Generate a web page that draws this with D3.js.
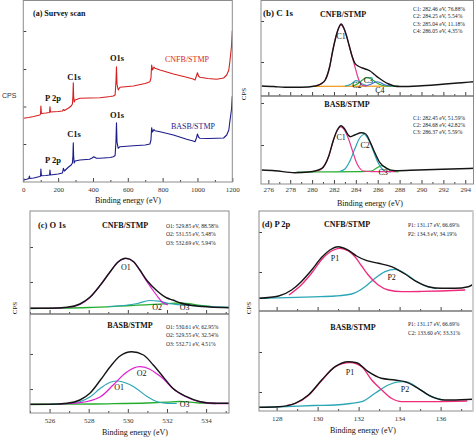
<!DOCTYPE html>
<html><head><meta charset="utf-8">
<script src="https://cdn.jsdelivr.net/npm/d3@7"></script>
<style>body{margin:0;background:#fff}svg{display:block}</style>
</head><body><script>
// ---------------- DATA ----------------
// (a) survey scan: [binding energy eV, counts (a.u.)]
const surveyCNFB = [[0,63.7],[30,64.5],[60,65.5],[95,67],[99,68],[101,76],[104,68.5],[130,69],[151,69.5],[153,75.3],[156,70],[200,70.5],[225,71],[230,72.5],[236,71.5],[260,74],[275,76],[282,78],[285,86],[287,99.3],[289,86],[292,80],[297,82],[325,83.7],[380,84],[440,84.3],[500,85.5],[517,86],[527,87],[532,100],[535,115.3],[538,98],[545,92],[555,94.7],[632,96],[700,98.5],[727,100.3],[733,104],[737,117],[742,112],[750,115],[756,113.7],[785,112],[862,108],[938,104.7],[975,103],[986,102],[994,106],[1000,109.3],[1006,106],[1014,104.7],[1060,103.5],[1110,102.7],[1150,104],[1168,107],[1180,112],[1187,122],[1195,135],[1200,151.3]];
const surveyBASB = [[0,2],[19,2.7],[32,3.5],[35,6],[38,3.5],[60,4],[95,5.5],[99,6],[101,13],[104,6.3],[130,6.5],[151,7],[153,12],[156,7],[200,8],[225,9],[230,13.7],[236,11],[260,15],[275,17],[282,19],[285,26],[287,39.3],[289,26],[292,19],[297,21],[325,22],[380,22.7],[395,24],[405,25.3],[420,23.7],[440,23.7],[500,24.5],[517,25.3],[527,26.5],[532,40],[535,59.3],[538,40],[545,33.7],[555,35.3],[632,36.3],[700,37],[727,38],[733,42],[737,54.3],[742,50],[750,52.5],[756,51.3],[785,50.3],[862,47],[938,42.7],[975,41],[986,40.3],[994,44],[1000,48],[1006,45],[1014,43.7],[1060,43.5],[1110,43.7],[1150,44],[1168,47],[1180,52],[1187,62],[1195,72],[1200,86]];
const surveyTicks = [0,200,400,600,800,1000,1200];

// (b) C 1s
const c1sTicks = [276,278,280,282,284,286,288,290,292,294];
const cnfbC1sTotal = [[275.4,10],[276.5,9.5],[277.5,8.7],[279.0,8.7],[280.3,10],[280.8,12],[281.2,16],[281.6,29],[281.9,46],[282.3,64],[282.65,72],[282.9,68],[283.15,60],[283.4,50],[283.65,40],[283.9,33],[284.2,30],[284.6,28],[285.0,26.5],[285.3,25],[285.7,21.5],[286.1,18],[286.5,15],[287.0,12],[287.5,10],[288.0,9.5],[289.7,10],[291.9,11.7],[293.7,13.3],[294.8,14.3]];
const cnfbC1 = [[280.3,10],[280.8,12],[281.2,16],[281.6,29],[281.9,46],[282.3,64],[282.65,71],[282.9,67.5],[283.15,60],[283.4,50],[283.65,40],[283.9,30],[284.15,20],[284.35,14],[284.6,10.5],[285.0,10]];
const cnfbC2 = [[283.0,10],[283.5,11.5],[283.8,14],[284.0,15.3],[284.3,14.5],[284.6,12],[285.0,10.3]];
const cnfbC3 = [[283.7,10],[284.2,12.5],[284.6,16],[285.0,18.3],[285.4,17],[285.8,14],[286.2,11.5],[286.7,10],[288.0,9.6]];
const cnfbC4 = [[284.8,10],[285.3,11.5],[285.6,13],[285.95,14.3],[286.3,13],[286.7,11],[287.2,10]];
const cnfbC1sBase = [[280.1,9.6],[287.3,9.9]];
const basbC1sTotal = [[275.4,14],[276.6,13.3],[278.4,11.3],[279.7,12],[280.9,15.7],[281.5,27.3],[281.95,44],[282.3,54],[282.65,58.3],[283.0,54.7],[283.3,49],[283.5,47.3],[283.9,49],[284.5,51.3],[284.9,50],[285.3,42.3],[285.76,30.7],[286.2,21.3],[286.8,15.7],[287.6,13.3],[289.7,14],[291.9,14.7],[294.8,15.7]];
const basbC1 = [[280.5,13],[280.9,15.5],[281.5,27],[281.95,43.5],[282.3,53.5],[282.6,57],[282.9,55],[283.3,46],[283.7,33],[284.0,23],[284.3,16.5],[284.7,13],[285.5,12.3],[287.6,12.3]];
const basbC2 = [[282.5,12.5],[283.0,15],[283.5,24],[283.9,35],[284.3,45],[284.75,49.5],[285.2,43.5],[285.6,33],[286.0,22],[286.4,15],[286.8,12.5],[287.2,12]];
const basbC3 = [[278.6,12],[284.5,12.3],[285.4,12.8],[285.9,16],[286.35,18.3],[286.8,16],[287.2,13],[287.9,12]];
const cnfbC1sLegend = ["C1: 282.46 eV, 76.88%","C2: 284.25 eV, 5.54%","C3: 285.04 eV, 11.18%","C4: 286.05 eV, 4.35%"];
const basbC1sLegend = ["C1: 282.45 eV, 51.59%","C2: 284.68 eV, 42.82%","C3: 286.37 eV, 5.59%"];
const cnfbC1sLabels = [["C1",282.65,57],["C2",284.1,8.5],["C3",285.15,13],["C4",286.2,3]];
const basbC1sLabels = [["C1",282.65,44],["C2",284.85,36],["C3",286.5,9]];

// (c) O 1s
const o1sTicks = [526,528,530,532,534];
const cnfbO1sTotal = [[525.0,5.7],[526.0,5.7],[526.9,6.7],[527.55,10],[528.06,16.7],[528.6,29],[529.1,42.3],[529.5,52],[529.9,55.7],[530.3,52.3],[530.6,44.5],[531.0,33],[531.5,23],[532.0,16],[532.3,14],[532.7,11],[533.3,8.5],[534.2,7],[535.17,6.3]];
const cnfbO1 = [[525.0,5.7],[526.0,5.7],[526.9,6.5],[527.55,9.5],[528.06,16.5],[528.6,29],[529.1,42.3],[529.5,52],[529.9,55.5],[530.3,52],[530.6,44],[530.95,33],[531.2,26],[531.5,18],[531.75,12],[532.05,9]];
const cnfbO2 = [[529.0,7.5],[529.8,8.5],[530.5,10.5],[531.1,13.5],[531.6,12.8],[532.1,10.5],[532.6,9.3],[533.3,8.3],[534.2,7.3],[535.17,6.8]];
const cnfbO3 = [[525.0,5.5],[526.5,5.8],[528.0,6.5],[529.5,7.8],[530.5,8.8],[531.3,9.6],[532.0,10.3],[532.6,11],[533.1,10.3],[533.7,8.5],[534.3,7.3]];
const basbO1sTotal = [[525.0,8.7],[526.0,8.7],[526.9,9.7],[527.55,13],[528.06,19.7],[528.6,33],[529.1,46.3],[529.6,57],[530.2,61.3],[530.8,58],[531.3,48],[531.8,36.3],[532.3,24.7],[533.0,16.3],[533.7,11.3],[534.5,9.7],[535.17,9.7]];
const basbO2 = [[526.5,9],[527.55,10.3],[528.6,16.3],[529.25,28],[529.9,40.3],[530.6,46.3],[531.1,44],[531.5,39],[531.8,34.5],[532.3,24.5],[533.0,16],[533.7,11],[534.5,9.5],[535.17,9.5]];
const basbO1 = [[526.0,8.7],[527.0,9.5],[527.55,11.3],[528.06,16],[528.6,24.7],[529.1,30.7],[529.5,32],[529.9,30],[530.3,26.3],[531.0,16.3],[531.5,11.3],[532.0,9.7],[532.5,9.5]];
const basbO3 = [[525.0,8.5],[527.0,8.8],[529.0,9.2],[531.0,10],[532.0,10.8],[532.65,11.5],[533.2,10.8],[533.8,9.8],[534.5,9.5]];
const cnfbO1sLegend = ["O1: 529.85 eV, 88.58%","O2: 531.55 eV, 5.48%","O3: 532.69 eV, 5.94%"];
const basbO1sLegend = ["O1: 530.61 eV, 62.95%","O2: 529.55 eV, 32.54%","O3: 532.71 eV, 4.51%"];
const cnfbO1sLabels = [["O1",529.9,44],["O2",531.5,4],["O3",532.9,4]];
const basbO1sLabels = [["O2",530.7,37],["O1",529.55,23],["O3",532.9,6]];

// (d) P 2p
const p2pTicks = [128,130,132,134,136];
const cnfbP2pTotal = [[127.15,12.7],[128.1,15],[128.73,21],[129.2,29.3],[129.71,41],[130.2,53.7],[130.6,61],[131.0,64.3],[131.42,61.7],[131.9,55],[132.4,50.3],[132.96,47.7],[133.6,44.3],[134.26,37],[134.83,29.3],[135.4,24.3],[136.05,22.7],[136.7,22.7],[137.35,24.3],[137.58,26.7]];
const cnfbP1 = [[128.6,16],[129.2,26],[129.71,38],[130.2,51.5],[130.6,59],[131.09,62.7],[131.5,60],[131.82,54.3],[132.15,45],[132.47,36],[132.96,26],[133.45,21],[134.1,19.3],[135.0,19.5],[136.0,20],[137.2,21]];
const cnfbP2 = [[127.15,12.7],[128.5,13.3],[129.8,14.2],[130.85,15],[131.66,17],[132.0,20],[132.31,24.3],[132.8,32.7],[133.29,39.3],[133.77,41.7],[134.26,37.5],[134.83,29.5],[135.4,24],[135.8,22.5]];
const basbP2pTotal = [[127.15,3.7],[128.1,4.3],[128.9,7.7],[129.55,16],[130.2,31],[130.85,44.3],[131.5,49.3],[131.9,48.3],[132.47,39.3],[133.1,32.7],[133.77,31],[134.26,29.3],[134.9,22.7],[135.56,14.3],[136.2,11],[137.0,11.3],[137.58,11.7]];
const basbP1 = [[128.5,5.5],[128.9,7.5],[129.55,15.5],[130.2,30.5],[130.85,44],[131.58,48.3],[132.15,44.3],[132.64,31],[133.13,21],[133.6,12.7],[134.1,9.3],[135.0,9.3],[136.0,9.5],[137.3,10]];
const basbP2 = [[127.15,3.7],[128.5,4.5],[129.8,5.5],[130.85,6],[131.6,7.5],[132.15,9.3],[132.8,17.7],[133.45,26],[134.1,29.3],[134.43,28.7],[134.9,22.7],[135.56,14.3],[136.0,11.5]];
const cnfbP2pLegend = ["P1: 131.17 eV, 66.69%","P2: 134.3 eV, 34.19%"];
const basbP2pLegend = ["P1: 131.17 eV, 66.69%","C2: 133.60 eV, 33.31%"];
const cnfbP2pLabels = [["P1",130.85,50],["P2",133.61,31]];
const basbP2pLabels = [["P1",131.58,36],["P2",134.26,19]];

// ---------------- DRAW ----------------
const serif = "'Liberation Serif','Times New Roman',serif";
const svg = d3.select("body").append("svg").attr("width",474).attr("height",438)
  .style("font-family",serif);
const defs = svg.append("defs");
let clipId = 0;
const COL = {black:"#151515", cyan:"#2aa6b6", green:"#24ad2c", orange:"#f29a1f", blue4:"#3a6fd0",
  magB:"#e8388f", magC:"#dd22d2", magD:"#ef2a7c", red:"#d61f1f", navy:"#1b1b8a"};

function clip(x0,y0,x1,y1){
  const id="clip"+(clipId++);
  defs.append("clipPath").attr("id",id).append("rect").attr("x",x0).attr("y",y0).attr("width",x1-x0).attr("height",y1-y0);
  return "url(#"+id+")";
}
function curveLine(g,data,x,y,color,w,curve){
  g.append("path").datum(data).attr("fill","none").attr("stroke",color).attr("stroke-width",w)
   .attr("stroke-linejoin","round")
   .attr("d",d3.line().x(d=>x(d[0])).y(d=>y(d[1])).curve(curve||d3.curveMonotoneX));
}
function xAxis(g,x,yPix,ticks,minorStep,labels,pad){
  const maj = g.append("g").attr("transform",`translate(0,${yPix})`)
    .call(d3.axisBottom(x).tickValues(ticks).tickSize(-4).tickSizeOuter(0).tickPadding(pad)
      .tickFormat(labels?d3.format("d"):""));
  maj.select(".domain").remove();
  maj.selectAll("line").attr("stroke","#444");
  maj.selectAll("text").attr("font-size",7).attr("font-family",serif).attr("fill","#333");
  const [d0,d1]=x.domain();
  const minors=d3.range(Math.ceil(d0/minorStep)*minorStep,d1,minorStep).filter(v=>!ticks.includes(v));
  const mn = g.append("g").attr("transform",`translate(0,${yPix})`)
    .call(d3.axisBottom(x).tickValues(minors).tickSize(-2).tickSizeOuter(0).tickFormat(""));
  mn.select(".domain").remove(); mn.selectAll("line").attr("stroke","#444");
}
function yTicks(g,y,xPix,vals){
  const a=g.append("g").attr("transform",`translate(${xPix},0)`)
    .call(d3.axisLeft(y).tickValues(vals).tickSize(-3).tickSizeOuter(0).tickFormat(""));
  a.select(".domain").remove(); a.selectAll("line").attr("stroke","#444");
}
function text(t,x,y,opt){
  opt=opt||{};
  const e=svg.append("text").attr("x",x).attr("y",y).text(t)
    .attr("font-size",opt.size||8).attr("fill",opt.fill||"#111")
    .attr("font-weight",opt.bold?"bold":"normal").attr("text-anchor",opt.anchor||"start");
  if(opt.family) e.attr("font-family",opt.family);
  if(opt.rotate) e.attr("transform",`rotate(-90,${x},${y})`);
  return e;
}
function frame(x0,y0,x1,y1){
  svg.append("rect").attr("x",x0).attr("y",y0).attr("width",x1-x0).attr("height",y1-y0)
    .attr("fill","none").attr("stroke","#8c8c8c").attr("stroke-width",1);
}
function legend(lines,x,y0,dy){
  lines.forEach((t,i)=>text(t,x,y0+i*dy,{size:5.6,fill:"#222"}));
}
function peakLabels(g,labels,x,y){
  labels.forEach(l=>g.append("text").attr("x",x(l[1])).attr("y",y(l[2])).attr("text-anchor","middle")
    .attr("font-size",8).attr("fill","#111").text(l[0]));
}

// ===== (a) Survey =====
{
  const x=d3.scaleLinear([0,1200],[23.3,232.3]);
  const y=d3.scaleLinear([0,182],[182,0]);
  const g=svg.append("g");
  frame(23.3,0.5,232.3,182);
  const gc=g.append("g").attr("clip-path",clip(23.3,0.5,232.3,182));
  curveLine(gc,surveyCNFB,x,y,COL.red,1.1,d3.curveLinear);
  curveLine(gc,surveyBASB,x,y,COL.navy,1.1,d3.curveLinear);
  xAxis(g,x,182,surveyTicks,100,true,5);
  yTicks(g,y,23.3,[38,75.5,113,151]);
  text("(a) Survey scan",33,16,{size:8,bold:true});
  text("CNFB/STMP",187,62,{size:8,fill:COL.red,anchor:"middle"});
  text("BASB/STMP",193,129,{size:8,fill:COL.navy,anchor:"middle"});
  text("O1s",117,61,{size:8.5,bold:true,anchor:"middle"});
  text("O1s",117,118,{size:8.5,bold:true,anchor:"middle"});
  text("C1s",74,80,{size:8.5,bold:true,anchor:"middle"});
  text("C1s",74,137,{size:8.5,bold:true,anchor:"middle"});
  text("P 2p",53,101,{size:8.5,bold:true,anchor:"middle"});
  text("P 2p",53,163,{size:8.5,bold:true,anchor:"middle"});
  text("Binding energy (eV)",128,203,{size:8,anchor:"middle"});
  text("CPS",2,98,{size:7,family:"'Liberation Sans',Arial,sans-serif",fill:"#333"});
}

// ===== (b) C 1s =====
{
  const x=d3.scaleLinear([275.33,294.8],[261,474]);
  const yT=d3.scaleLinear([0,96],[96,0]);
  const yB=d3.scaleLinear([0,88],[184,96]);
  const g=svg.append("g");
  frame(261,0.5,473.5,184);
  const gt=g.append("g").attr("clip-path",clip(261,0.5,473.5,96));
  curveLine(gt,cnfbC1sBase,x,yT,COL.orange,1.3,d3.curveLinear);
  curveLine(gt,cnfbC3,x,yT,COL.green,1.2);
  curveLine(gt,cnfbC2,x,yT,COL.cyan,1.2);
  curveLine(gt,cnfbC4,x,yT,COL.blue4,1.1);
  curveLine(gt,cnfbC1,x,yT,COL.magB,1.2);
  curveLine(gt,cnfbC1sTotal,x,yT,COL.black,1.4);
  peakLabels(g,cnfbC1sLabels,x,yT);
  const gb=g.append("g").attr("clip-path",clip(261,96,473.5,184));
  curveLine(gb,basbC3,x,yB,COL.green,1.2);
  curveLine(gb,basbC2,x,yB,COL.cyan,1.2);
  curveLine(gb,basbC1,x,yB,COL.magB,1.2);
  curveLine(gb,basbC1sTotal,x,yB,COL.black,1.4);
  peakLabels(g,basbC1sLabels,x,yB);
  svg.append("line").attr("x1",261).attr("x2",474).attr("y1",96).attr("y2",96).attr("stroke","#777").attr("stroke-width",1.6);
  xAxis(g,x,184,c1sTicks,1,true,3);
  xAxis(g,x,96,c1sTicks,1,false,0);
  yTicks(g,yT,261,[34,75]);
  yTicks(g,yB,261,[39,81]);
  text("(b) C 1s",263,16,{size:9,bold:true});
  text("CNFB/STMP",343,17,{size:8,bold:true,anchor:"middle"});
  text("BASB/STMP",347,107,{size:8,bold:true,anchor:"middle"});
  legend(cnfbC1sLegend,413,11,7.4);
  legend(basbC1sLegend,413,119.5,7.2);
  text("Binding energy (eV)",370,205.5,{size:8,anchor:"middle"});
  text("CPS",246,94,{size:7,rotate:true,anchor:"middle"});
}

// ===== (c) O 1s =====
{
  const x=d3.scaleLinear([525,535.17],[30,229]);
  const yT=d3.scaleLinear([0,103],[314,211]);
  const yB=d3.scaleLinear([0,99],[413,314]);
  const g=svg.append("g");
  frame(30,211,229,413);
  const gt=g.append("g").attr("clip-path",clip(30,211,229,314));
  curveLine(gt,cnfbO3,x,yT,COL.green,1.3);
  curveLine(gt,cnfbO2,x,yT,COL.cyan,1.2);
  curveLine(gt,cnfbO1,x,yT,COL.magC,1.2);
  curveLine(gt,cnfbO1sTotal,x,yT,COL.black,1.4);
  peakLabels(g,cnfbO1sLabels,x,yT);
  const gb=g.append("g").attr("clip-path",clip(30,314,229,413));
  curveLine(gb,basbO3,x,yB,COL.green,1.3);
  curveLine(gb,basbO1,x,yB,COL.cyan,1.2);
  curveLine(gb,basbO2,x,yB,COL.magC,1.3);
  curveLine(gb,basbO1sTotal,x,yB,COL.black,1.4);
  peakLabels(g,basbO1sLabels,x,yB);
  svg.append("line").attr("x1",30).attr("x2",229).attr("y1",314).attr("y2",314).attr("stroke","#777").attr("stroke-width",1.6);
  xAxis(g,x,413,o1sTicks,1,true,5);
  xAxis(g,x,314,o1sTicks,1,false,0);
  yTicks(g,yT,30,[32,67]);
  yTicks(g,yB,30,[24,59]);
  text("(c) O 1s",38,228,{size:8.5,bold:true});
  text("CNFB/STMP",125,228,{size:8,bold:true,anchor:"middle"});
  text("BASB/STMP",130,328,{size:8,bold:true,anchor:"middle"});
  legend(cnfbO1sLegend,166,227.5,8.8);
  legend(basbO1sLegend,166,328.5,8.8);
  text("Binding energy (eV)",135,434.5,{size:8,anchor:"middle"});
  text("CPS",17,308,{size:7,rotate:true,anchor:"middle"});
}

// ===== (d) P 2p =====
{
  const x=d3.scaleLinear([127.14,137.58],[259,473]);
  const yT=d3.scaleLinear([0,100],[311,211]);
  const yB=d3.scaleLinear([0,100],[411,311]);
  const g=svg.append("g");
  frame(259,211,473,411);
  const gt=g.append("g").attr("clip-path",clip(259,211,473,311));
  curveLine(gt,cnfbP2,x,yT,COL.cyan,1.3);
  curveLine(gt,cnfbP1,x,yT,COL.magD,1.3);
  curveLine(gt,cnfbP2pTotal,x,yT,COL.black,1.4);
  peakLabels(g,cnfbP2pLabels,x,yT);
  const gb=g.append("g").attr("clip-path",clip(259,311,473,411));
  curveLine(gb,basbP2,x,yB,COL.cyan,1.3);
  curveLine(gb,basbP1,x,yB,COL.magD,1.3);
  curveLine(gb,basbP2pTotal,x,yB,COL.black,1.4);
  peakLabels(g,basbP2pLabels,x,yB);
  svg.append("line").attr("x1",259).attr("x2",473).attr("y1",311).attr("y2",311).attr("stroke","#777").attr("stroke-width",1.6);
  xAxis(g,x,411,p2pTicks,1,true,5);
  xAxis(g,x,311,p2pTicks,1,false,0);
  yTicks(g,yT,259,[39,79]);
  yTicks(g,yB,259,[19,59]);
  text("(d) P 2p",262,227,{size:8.5,bold:true});
  text("CNFB/STMP",347,227,{size:8,bold:true,anchor:"middle"});
  text("BASB/STMP",353,330,{size:8,bold:true,anchor:"middle"});
  legend(cnfbP2pLegend,408,226.5,9);
  legend(basbP2pLegend,408,325.5,9);
  text("Binding energy (eV)",363,433,{size:8,anchor:"middle"});
  text("CPS",251,308,{size:7,rotate:true,anchor:"middle"});
  svg.append("rect").attr("x",472).attr("y",211).attr("width",2).attr("height",200).attr("fill","#d0d0d0");
}
</script></body></html>
